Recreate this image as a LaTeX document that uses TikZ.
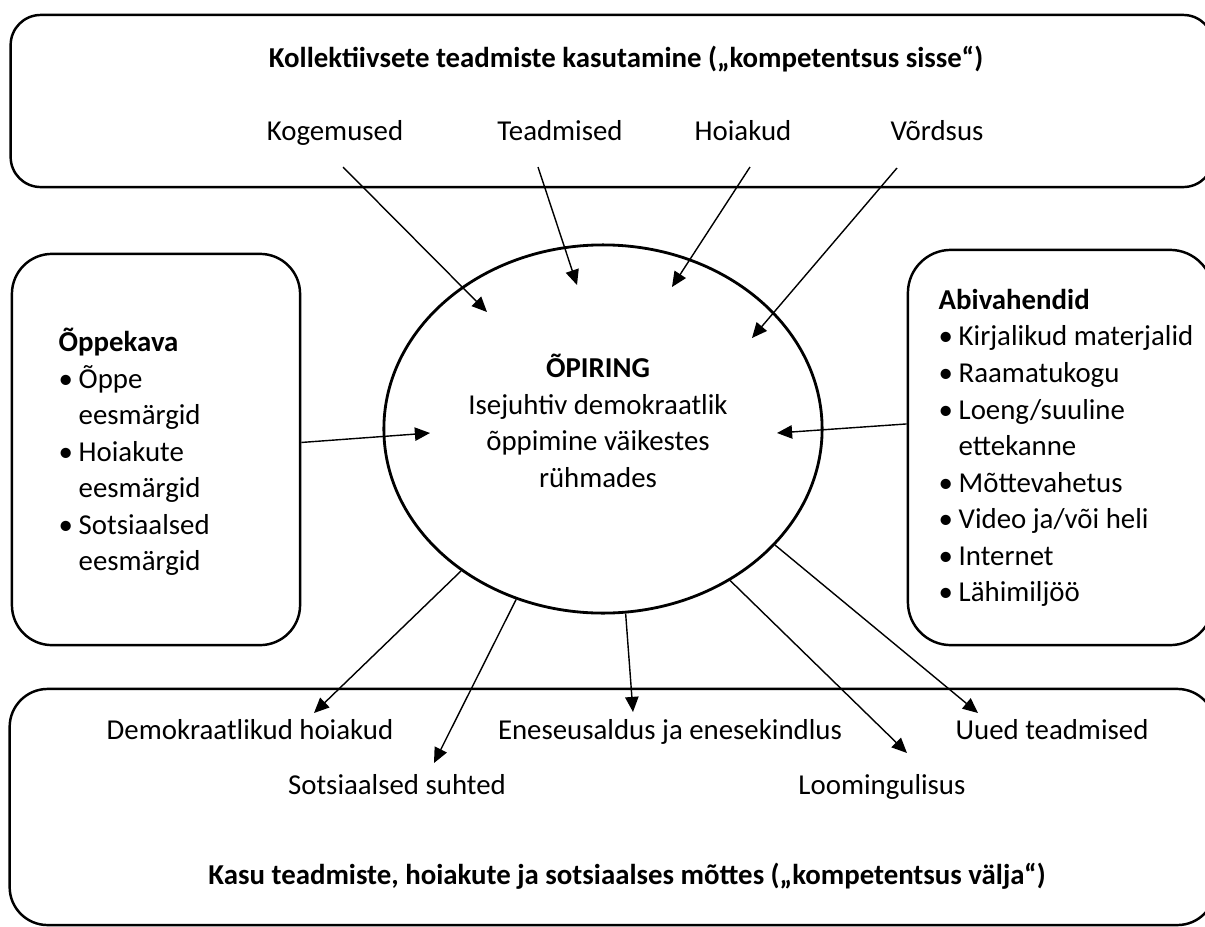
\documentclass[tikz,border=0pt]{standalone}
\usepackage{fontspec}
\setmainfont{Carlito}
\usetikzlibrary{arrows.meta,shapes.geometric,calc}

\newcommand{\tapp}{\makebox[0.2cm][l]{•}}
\newcommand{\jatk}{\hspace*{0.2cm}}

\begin{document}
\begin{tikzpicture}[
    x=0.01cm, y=-0.01cm,
    font=\fontsize{8.2}{10.4}\selectfont,
    panel/.style={rectangle, draw=black, line width=0.7pt, rounded corners=0.3cm},
    ring/.style={ellipse, draw=black, line width=0.8pt, minimum width=4.38cm, minimum height=3.68cm, inner sep=0pt},
    lbl/.style={inner sep=0pt, text height=6pt, text depth=1.8pt},
    list/.style={inner sep=0pt, align=left},
    arrow/.style={line width=0.4pt, -{Triangle[length=4.3pt, width=3.8pt]}}
]
\useasboundingbox (0,0) rectangle (1205,927);

% Boxes (right side runs off the page)
\node[panel, minimum width=12.02cm, minimum height=1.72cm] (kollektiiv) at (612,101) {};
\node[panel, rounded corners=0.4cm, minimum width=2.88cm, minimum height=3.91cm] (oppekava) at (156,449.5) {};
\node[panel, rounded corners=0.43cm, minimum width=3.05cm, minimum height=3.95cm] (abivahend) at (1060.5,447.5) {};
\node[panel, rounded corners=0.38cm, minimum width=12.05cm, minimum height=2.36cm] (kasu) at (612.5,807) {};

% Titles
\node[lbl] (kollektiiv-t) at (626,60) {\textbf{Kollektiivsete teadmiste kasutamine („kompetentsus sisse“)}};
\node[lbl] (kasu-t) at (627,877) {\textbf{Kasu teadmiste, hoiakute ja sotsiaalses mõttes („kompetentsus välja“)}};

% Centre
\node[ring] (opiring) at (603,429) {};
\node[list, align=center] (opiring-txt) at (598,421) {\textbf{ÕPIRING}\\Isejuhtiv demokraatlik\\õppimine väikestes\\rühmades};

% Inputs
\node[lbl] (kog) at (335,133) {Kogemused};
\node[lbl] (tead) at (560,133) {Teadmised};
\node[lbl] (hoi) at (743,133) {Hoiakud};
\node[lbl] (vord) at (937,133) {Võrdsus};

\node[list, anchor=west] (oppekava-txt) at (58,452) {\textbf{Õppekava}\\\tapp Õppe\\\jatk eesmärgid\\\tapp Hoiakute\\\jatk eesmärgid\\\tapp Sotsiaalsed\\\jatk eesmärgid};
\node[list, anchor=west] (abivahend-txt) at (938,448) {\textbf{Abivahendid}\\\tapp Kirjalikud materjalid\\\tapp Raamatukogu\\\tapp Loeng/suuline\\\jatk ettekanne\\\tapp Mõttevahetus\\\tapp Video ja/või heli\\\tapp Internet\\\tapp Lähimiljöö};

% Outputs
\node[lbl] (dem) at (250,732) {Demokraatlikud hoiakud};
\node[lbl] (sots) at (397,787) {Sotsiaalsed suhted};
\node[lbl] (enes) at (670,732) {Eneseusaldus ja enesekindlus};
\node[lbl] (loom) at (882,787) {Loomingulisus};
\node[lbl] (uued) at (1052,732) {Uued teadmised};

% Arrow ends inside the ring
\coordinate (kog-in) at (487,312);
\coordinate (tead-in) at (577,285);
\coordinate (hoi-in) at (672,287);
\coordinate (vord-in) at (752,338);
\coordinate (opp-in) at (430,433);
\coordinate (abi-in) at (777,433);

% Arrows
\draw[arrow] ($(kog)+(8,34)$) -- (kog-in);
\draw[arrow] ($(tead)+(-22,34)$) -- (tead-in);
\draw[arrow] ($(hoi)+(7,34)$) -- (hoi-in);
\draw[arrow] ($(vord)+(-40,35)$) -- (vord-in);
\draw[arrow] ([yshift=2pt]oppekava.east) -- (opp-in);
\draw[arrow] ([yshift=6.7pt]abivahend.west) -- (abi-in);
\draw[arrow] (opiring.-135) -- ($(dem)+(64,-19)$);
\draw[arrow] (opiring.-117) -- ($(sots)+(37,-24)$);
\draw[arrow] (opiring.-83.5) -- ($(enes)+(-37,-20)$);
\draw[arrow] (opiring.-50) -- ($(loom)+(25,-34)$);
\draw[arrow] (opiring.-34.5) -- ($(uued)+(-74,-19)$);
\end{tikzpicture}
\end{document}
